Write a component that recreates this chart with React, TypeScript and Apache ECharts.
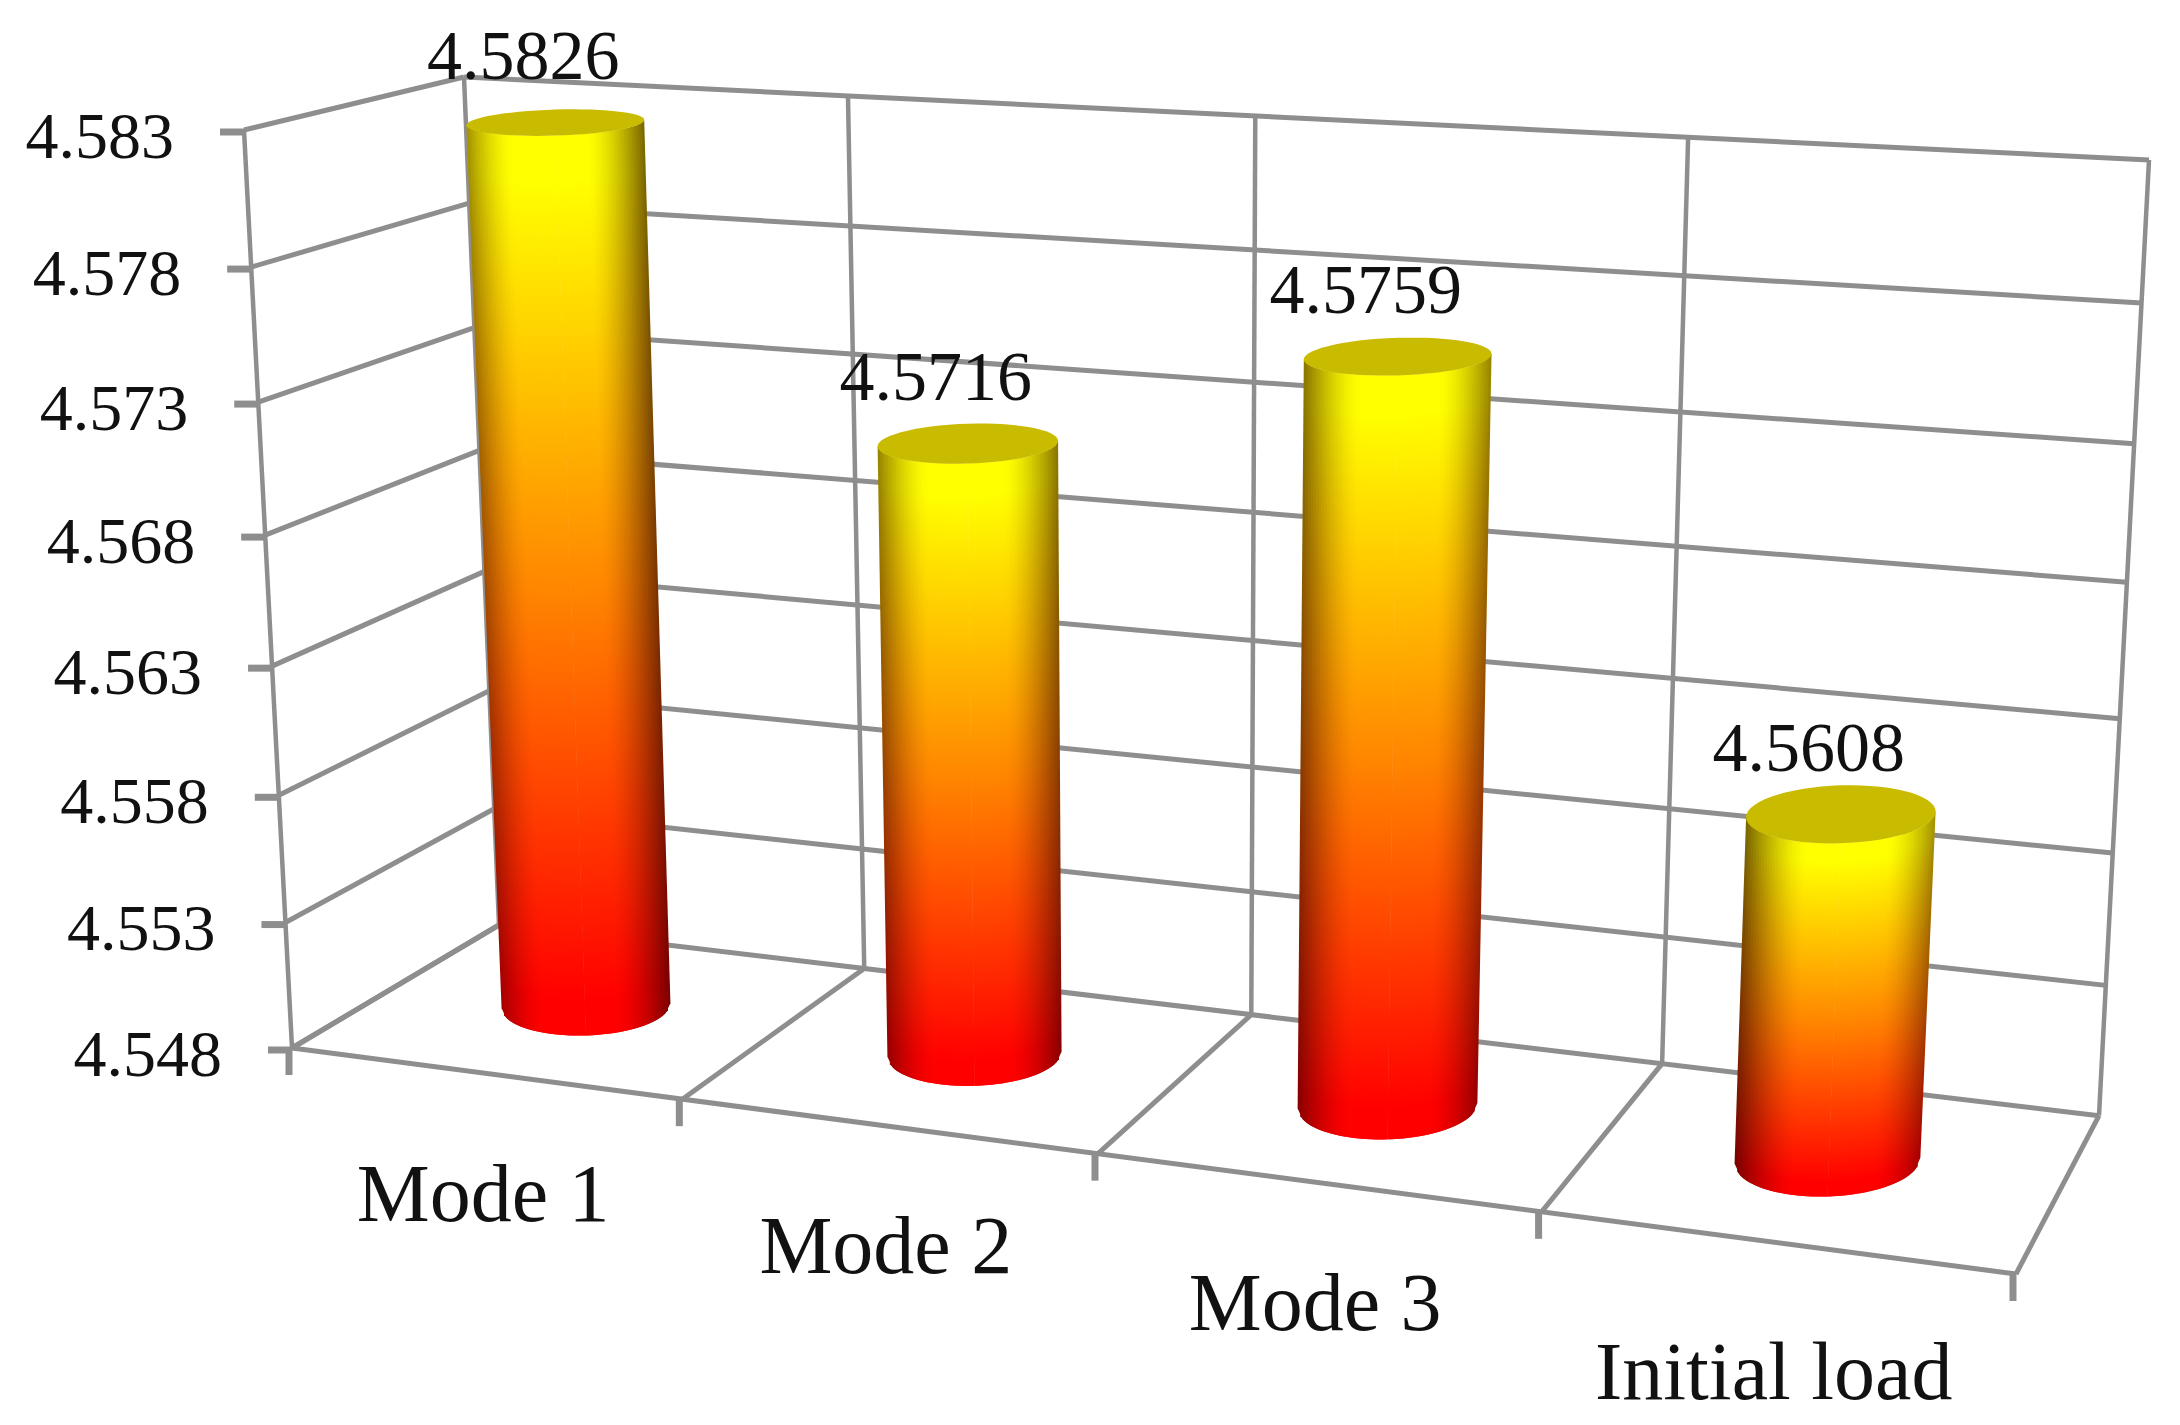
import React, { useEffect, useRef } from "react";
import * as echarts from "echarts";

const categories = ["Mode 1", "Mode 2", "Mode 3", "Initial load"];
const barValues = [4.5826, 4.5716, 4.5759, 4.5608];
const barLabels = ["4.5826", "4.5716", "4.5759", "4.5608"];
const yTicks = [4.548, 4.553, 4.558, 4.563, 4.568, 4.573, 4.578, 4.583];
const yTickLabels = ["4.548", "4.553", "4.558", "4.563", "4.568", "4.573", "4.578", "4.583"];
const boundaries = [0, 1, 2, 3, 4];
const Y_MIN = 4.548;
const Y_MAX = 4.583;

// Projection of the 3D box (layout, not data)
type P = [number, number];
const FLOOR: P[] = [[292, 1048], [2016, 1274], [2099, 1115.7], [499, 925]];
const CEIL: P[] = [[244, 130], [2069, 229], [2149, 160], [464, 77]];
const VANISH_Y = 18345;
const GRID = { left: 100, top: 100, width: 1000, height: 1000 };
const LINE = "#8e8e8e";
const FONT = "'Liberation Serif', serif";
const CAT_LABEL_DY = [0, 0, 0, 9];

function homography(q: P[]) {
  const [[x0, y0], [x1, y1], [x2, y2], [x3, y3]] = q;
  const dx1 = x1 - x2, dx2 = x3 - x2, sx = x0 - x1 + x2 - x3;
  const dy1 = y1 - y2, dy2 = y3 - y2, sy = y0 - y1 + y2 - y3;
  const den = dx1 * dy2 - dx2 * dy1;
  const g = (sx * dy2 - dx2 * sy) / den;
  const h = (dx1 * sy - sx * dy1) / den;
  const a = x1 - x0 + g * x1, b = x3 - x0 + h * x3, c = x0;
  const d = y1 - y0 + g * y1, e = y3 - y0 + h * y3, f = y0;
  return (u: number, w: number): P => {
    const k = g * u + h * w + 1;
    return [(a * u + b * w + c) / k, (d * u + e * w + f) / k];
  };
}
const floorH = homography(FLOOR);
const ceilH = homography(CEIL);

function pt3(u: number, d: number, v: number): P {
  const b = floorH(u, d);
  const t = ceilH(u, d);
  const r = (VANISH_Y - b[1]) / (VANISH_Y - t[1]);
  const w0 = 1 - v, w1 = v * r, s = w0 + w1;
  return [(w0 * b[0] + w1 * t[0]) / s, (w0 * b[1] + w1 * t[1]) / s];
}

const lineEl = (pts: P[], width = 5) => ({
  type: "polyline",
  shape: { points: pts },
  style: { stroke: LINE, lineWidth: width, fill: "none" },
  silent: true,
});

const textEl = (text: string, x: number, y: number, size: number, align: string) => ({
  type: "text",
  style: {
    text, x, y, fill: "#111", fontSize: size, fontFamily: FONT,
    textAlign: align, textVerticalAlign: "middle", verticalAlign: "middle",
  },
});

function toV(params: any, api: any, val: number) {
  const cs = params.coordSys;
  const py = api.coord([0, val])[1];
  return (cs.y + cs.height - py) / cs.height;
}

function renderValueLine(params: any, api: any) {
  const val = api.value(1);
  const v = toV(params, api, val);
  const f = pt3(0, 0, v);
  const back0 = pt3(0, 1, v);
  const back1 = pt3(1, 1, v);
  const tickL: P = [f[0] - 24, f[1] + 2];
  return {
    type: "group",
    children: [
      lineEl([f, back0]),
      lineEl([back0, back1]),
      lineEl([tickL, [f[0], f[1] + 2]], 7),
      textEl(yTickLabels[params.dataIndex], tickL[0] - 46, f[1] + 5, 66, "right"),
    ],
  };
}

function renderBoundary(params: any, api: any) {
  const cs = params.coordSys;
  const band = api.size([1, 0])[0];
  const i = api.value(0);
  const u = (i * band) / cs.width;
  const children: any[] = [
    lineEl([pt3(u, 1, 0), pt3(u, 1, 1)], 4.5),
    lineEl([pt3(u, 0, 0), pt3(u, 1, 0)]),
  ];
  const f = pt3(u, 0, 0);
  children.push(lineEl([[f[0] - 3, f[1]], [f[0] - 3, f[1] + 27]], 7));
  if (i === 0) {
    children.push(lineEl([pt3(0, 0, 0), pt3(0, 0, 1)], 4.5));
    children.push(lineEl([pt3(0, 0, 0), pt3(1, 0, 0)]));
  }
  return { type: "group", children };
}

function renderCategoryLabel(params: any, api: any) {
  const cs = params.coordSys;
  const p = api.coord([api.value(0), Y_MIN]);
  const u = (p[0] - cs.x) / cs.width;
  const f = pt3(u, 0, 0);
  return textEl(categories[params.dataIndex], f[0] - 1, f[1] + 120 + CAT_LABEL_DY[params.dataIndex], 82, "center");
}

// colour of the body at a horizontal shade s: darkens toward a brownish tone
function shaded(c: number[], s: number) {
  const g = Math.pow(s, 1.25);
  return `rgb(${Math.round(c[0] * s)},${Math.round(c[1] * g)},0)`;
}
const YELLOW = [255, 255, 0];
const ORANGE = [255, 135, 0];
const RED = [255, 0, 0];

function renderBar(params: any, api: any) {
  const cs = params.coordSys;
  const p = api.coord([api.value(0), api.value(1)]);
  const uc = (p[0] - cs.x) / cs.width - 0.001;
  const v = toV(params, api, api.value(1));
  const dc = 0.51, db = 0.235;
  const ua = 0.0568 - 0.0065 * uc;
  // Axis-aligned ellipse sized from the box's projected scale at this level
  const ellipse = (level: number) => {
    const c = pt3(uc, dc, level);
    const l = pt3(uc - ua, dc, level);
    const r = pt3(uc + ua, dc, level);
    const f = pt3(uc, dc - db, level);
    const b = pt3(uc, dc + db, level);
    const rx = (r[0] - l[0]) / 2;
    const ry = (f[1] - b[1]) / 2;
    return (t: number): P => [
      c[0] + rx * Math.cos(t),
      c[1] - ry * Math.sin(t) + 0.03 * rx * -Math.cos(t),
    ];
  };
  const top = ellipse(v);
  const base = ellipse(0);
  // angles in (PI, 2PI) are the front half
  const n = 35;
  const strip = (x0: number, x1: number) => {
    const t0 = 2 * Math.PI - Math.acos(x0);
    const t1 = 2 * Math.PI - Math.acos(x1);
    const x = (x0 + x1) / 2 + (0.5 - uc) * 0.18;
    const e = Math.max(0, Math.abs(x) - 0.4) / 0.6;
    const s = Math.max(0.45, 1 - 0.46 * Math.pow(e, 1.6));
    return {
      type: "polygon",
      shape: { points: [top(t0), top(t1), base(t1), base(t0)] },
      style: {
        fill: new echarts.graphic.LinearGradient(0, 0, 0, 1, [
          { offset: 0, color: shaded(YELLOW, s) },
          { offset: 0.05, color: shaded(YELLOW, s) },
          { offset: 0.5, color: shaded(ORANGE, s) },
          { offset: 0.96, color: shaded(RED, s) },
          { offset: 1, color: shaded(RED, s) },
        ]),
      },
    };
  };
  const children: any[] = [];
  // outer edges first, both halves inward, strips overlap their inner neighbour
  for (let k = 0; k < n; k++) {
    const a = -1 + k / n, b = Math.min(0, -1 + (k + 2) / n);
    children.push(strip(a, b));
    children.push(strip(-b, -a));
  }
  const cap: P[] = [];
  for (let k = 0; k < 60; k++) cap.push(top((2 * Math.PI * k) / 60));
  children.push({ type: "polygon", shape: { points: cap }, style: { fill: "#c9bb00" } });
  const c = pt3(uc, dc, v);
  children.push(textEl(barLabels[params.dataIndex], c[0] - 32, c[1] - 67, 70, "center"));
  return { type: "group", children };
}

export default function App() {
  const ref = useRef<HTMLDivElement>(null);
  useEffect(() => {
    document.body.style.margin = "0";
    document.body.style.background = "#fff";
    const chart = echarts.init(ref.current!, null, { renderer: "svg" });
    chart.setOption({
      animation: false,
      backgroundColor: "#ffffff",
      grid: GRID,
      xAxis: { type: "category", data: categories, show: false },
      yAxis: { type: "value", min: Y_MIN, max: Y_MAX, scale: true, show: false },
      series: [
        {
          type: "custom", name: "Value grid", renderItem: renderValueLine, clip: false, z: 1,
          data: yTicks.map((t) => [0, t]), encode: { x: 0, y: 1 },
        },
        {
          type: "custom", name: "Category grid", renderItem: renderBoundary, clip: false, z: 1,
          data: boundaries.map((b) => [b, Y_MIN]), encode: { x: 0, y: 1 },
        },
        {
          type: "custom", name: "Category labels", renderItem: renderCategoryLabel, clip: false, z: 2,
          data: categories.map((_, i) => [i, Y_MIN]), encode: { x: 0, y: 1 },
        },
        {
          type: "custom", name: "Value", renderItem: renderBar, clip: false, z: 3,
          data: barValues.map((b, i) => [i, b]), encode: { x: 0, y: 1 },
        },
      ],
    });
    return () => chart.dispose();
  }, []);
  return <div ref={ref} style={{ position: "absolute", left: 0, top: 0, width: 2180, height: 1425 }} />;
}
